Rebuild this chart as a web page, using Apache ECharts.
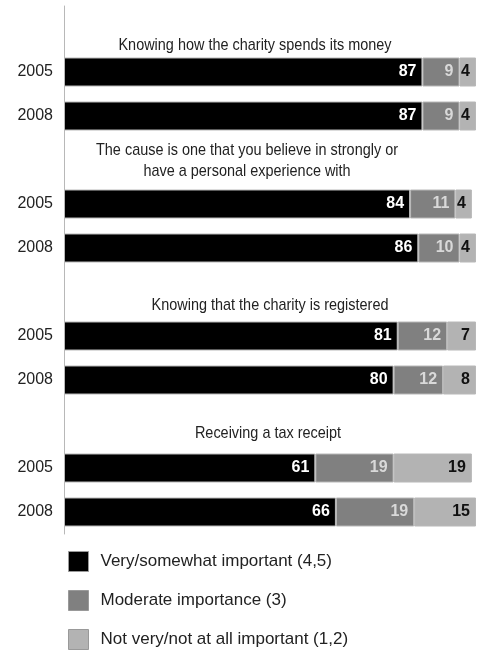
<!DOCTYPE html>
<html>
<head>
<meta charset="utf-8">
<script src="https://cdn.jsdelivr.net/npm/echarts@6/dist/echarts.min.js"></script>
<style>
html,body{margin:0;padding:0;background:#fff;}
#c{width:477px;height:651px;}
</style>
</head>
<body>
<div id="c"></div>
<script>
// Slots (top to bottom): group title slot, 2005, 2008, ...
var categories = ['t1','g1_2005','g1_2008','t2','g2_2005','g2_2008','t3','g3_2005','g3_2008','t4','g4_2005','g4_2008'];
var yearLabels = ['', '2005','2008','', '2005','2008','', '2005','2008','', '2005','2008'];
var groupTitles = [
  'Knowing how the charity spends its money',
  'The cause is one that you believe in strongly or\nhave a personal experience with',
  'Knowing that the charity is registered',
  'Receiving a tax receipt'
];
var seriesNames = ['Very/somewhat important (4,5)', 'Moderate importance (3)', 'Not very/not at all important (1,2)'];
var veryImportant = [null, 87, 87, null, 84, 86, null, 81, 80, null, 61, 66];
var moderate      = [null,  9,  9, null, 11, 10, null, 12, 12, null, 19, 19];
var notImportant  = [null,  4,  4, null,  4,  4, null,  7,  8, null, 19, 15];

var FONT = '"Liberation Sans", Arial, sans-serif';
var colors = ['#000000', '#808080', '#b3b3b3'];
var labelColors = ['#ffffff', '#d9d9d9', '#111111'];
var values = [veryImportant, moderate, notImportant];

var chart = echarts.init(document.getElementById('c'), null, {renderer: 'canvas'});

var series = values.map(function (arr, i) {
  return {
    name: seriesNames[i],
    type: 'bar',
    stack: 'total',
    data: arr,
    barWidth: 29,
    itemStyle: {color: colors[i], borderColor: '#b8b8b8', borderWidth: 1},
    label: {
      show: true,
      position: 'insideRight',
      distance: 6,
      color: labelColors[i],
      fontFamily: FONT,
      fontWeight: 'bold',
      fontSize: 16
    },
    emphasis: {disabled: true},
    animation: false
  };
});

var titlePos = [[255, 45], [247, 161], [270, 305], [268, 433]];
var graphics = groupTitles.map(function (t, i) {
  return {
    type: 'text',
    x: titlePos[i][0],
    y: titlePos[i][1],
    scaleX: 0.85,
    silent: true,
    style: {
      text: t,
      align: 'center',
      verticalAlign: 'middle',
      fontFamily: FONT,
      fontSize: 17,
      lineHeight: 21,
      fill: '#222222'
    }
  };
});

chart.setOption({
  animation: false,
  backgroundColor: '#ffffff',
  grid: {left: 64, top: 6, width: 412, height: 528, containLabel: false},
  xAxis: {
    type: 'value', min: 0, max: 100, interval: 10,
    show: false
  },
  yAxis: {
    type: 'category',
    data: categories,
    inverse: true,
    axisLine: {show: true, lineStyle: {color: '#b8b8b8', width: 1}},
    axisTick: {show: false},
    axisLabel: {
      margin: 11,
      color: '#222222',
      fontFamily: FONT,
      fontSize: 16,
      formatter: function (v, idx) { return yearLabels[idx]; }
    }
  },
  legend: {
    orient: 'vertical',
    left: 68,
    top: 551,
    height: 100,
    padding: 0,
    itemWidth: 20,
    itemHeight: 20,
    itemGap: 18,
    icon: 'rect',
    selectedMode: false,
    itemStyle: {borderColor: '#999999', borderWidth: 1},
    textStyle: {color: '#222222', fontFamily: FONT, fontSize: 17, padding: [0, 0, 0, 7]},
    data: seriesNames
  },
  graphic: graphics,
  series: series
});
</script>
</body>
</html>
